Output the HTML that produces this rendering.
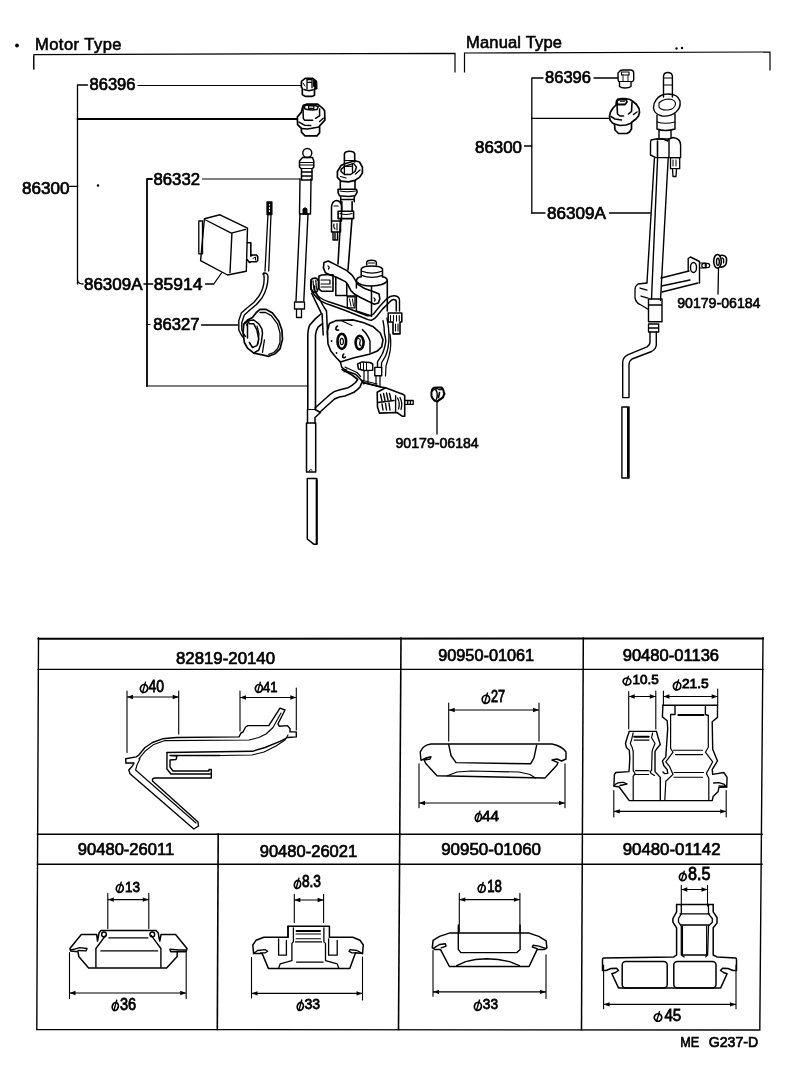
<!DOCTYPE html>
<html><head><meta charset="utf-8"><style>
html,body{margin:0;padding:0;background:#fff;width:800px;height:1086px;overflow:hidden}
svg{display:block;filter:grayscale(1) contrast(3)}
text{font-family:"Liberation Sans",sans-serif;fill:#000}
.t{font-size:16.5px;stroke:#000;stroke-width:0.7px}
.s{font-size:14px;stroke:#000;stroke-width:0.6px}
.d{font-size:12px;stroke:#000;stroke-width:0.8px}
</style></head><body>
<svg width="800" height="1086" viewBox="0 0 800 1086">
<g fill="none" stroke="#000" stroke-width="1.2" stroke-linecap="round" stroke-linejoin="round">
<!-- TEXT -->
</g>
<g id="labels">
<text class="t" style="stroke-width:0.6px" x="35" y="50" textLength="86.5" lengthAdjust="spacing">Motor Type</text>
<text class="t" style="stroke-width:0.6px" x="466" y="48" textLength="96" lengthAdjust="spacing">Manual Type</text>
<text class="t" x="89.5" y="90.3" textLength="46" lengthAdjust="spacingAndGlyphs">86396</text>
<text class="t" x="22" y="193.5" textLength="47.5" lengthAdjust="spacingAndGlyphs">86300</text>
<text class="t" x="153.5" y="185" textLength="46.5" lengthAdjust="spacingAndGlyphs">86332</text>
<text class="t" x="84" y="290" textLength="58.5" lengthAdjust="spacingAndGlyphs">86309A</text>
<text class="t" x="153.8" y="290" textLength="48.6" lengthAdjust="spacingAndGlyphs">85914</text>
<text class="t" x="153.3" y="329.8" textLength="46.2" lengthAdjust="spacingAndGlyphs">86327</text>
<text class="s" x="395.5" y="448.3" textLength="83.2" lengthAdjust="spacingAndGlyphs">90179-06184</text>
<text class="t" x="545" y="83" textLength="46" lengthAdjust="spacingAndGlyphs">86396</text>
<text class="t" x="475" y="152.5" textLength="47" lengthAdjust="spacingAndGlyphs">86300</text>
<text class="t" x="547" y="218.7" textLength="59" lengthAdjust="spacingAndGlyphs">86309A</text>
<text class="s" x="677.2" y="308.2" textLength="83.3" lengthAdjust="spacingAndGlyphs">90179-06184</text>
<text class="t" x="176" y="663.7" textLength="99" lengthAdjust="spacingAndGlyphs">82819-20140</text>
<text class="t" x="438.2" y="661.2" textLength="96" lengthAdjust="spacingAndGlyphs">90950-01061</text>
<text class="t" x="622.7" y="660.7" textLength="96.4" lengthAdjust="spacingAndGlyphs">90480-01136</text>
<text class="t" x="77.8" y="855.3" textLength="96.4" lengthAdjust="spacingAndGlyphs">90480-26011</text>
<text class="t" x="259.7" y="856.5" textLength="97.5" lengthAdjust="spacingAndGlyphs">90480-26021</text>
<text class="t" x="441.2" y="855.3" textLength="99.8" lengthAdjust="spacingAndGlyphs">90950-01060</text>
<text class="t" x="622.7" y="855.3" textLength="97.9" lengthAdjust="spacingAndGlyphs">90480-01142</text>
<text class="t" style="font-size:15px" x="680.2" y="1047" textLength="19" lengthAdjust="spacingAndGlyphs">ME</text><text class="t" style="font-size:15px" x="708.7" y="1047" textLength="49.5" lengthAdjust="spacingAndGlyphs">G237-D</text>
</g>
<g id="table" fill="none" stroke="#000" stroke-linecap="square">
<path d="M38.5 638.8 L763 638.5" stroke-width="2"/>
<path d="M38.5 638 L36.8 1029.5 L759.8 1030 L763 638" stroke-width="1.4"/>
<path d="M38 669.3 L763 669.3" stroke-width="1.3"/>
<path d="M37.5 834.2 L762 834.2" stroke-width="1.6"/>
<path d="M37.5 864.2 L762 864.2" stroke-width="1.4"/>
<path d="M401 638 L398.5 1029.5" stroke-width="1.6"/>
<path d="M583.3 638 L581.5 1029.8" stroke-width="1.5"/>
<path d="M218.2 834 L217.3 1029.5" stroke-width="1.6"/>
</g>

<g id="motor" fill="none" stroke="#000" stroke-width="1.4" stroke-linecap="round" stroke-linejoin="round">
<!-- leaders/brackets left -->
<path d="M77.5 284 V85 H87.5" stroke-width="1.3"/>
<path d="M138 85.5 H301.5" stroke-width="1.1"/>
<path d="M77.5 119 H297" stroke-width="1.8"/>
<path d="M69.5 186.3 H77.5" stroke-width="1.3"/>
<path d="M77.5 280 Q78 284 83 284" stroke-width="1.3"/>
<path d="M147 386 V179 H152" stroke-width="1.8"/><path d="M147 324.5 H150" stroke-width="1.2"/>
<path d="M202.5 179 H300" stroke-width="1.1"/>
<path d="M144 284 H152.7" stroke-width="1.5"/>
<path d="M147 386 H307.5" stroke-width="1.1"/>
<path d="M205.5 284 H213.8 L221.5 273" stroke-width="1.3"/>
<path d="M201.5 325 H237.5" stroke-width="1.3"/>
<path d="M437 402 V434" stroke-width="1.3"/>
<circle cx="98" cy="185.5" r="0.6" fill="#000"/>
<circle cx="17" cy="45.5" r="1.2" fill="#000"/>

<!-- small nut 86396 -->
<path d="M301.4 81.4 L305.1 78.3 H312.7 L316.4 81.4 L316.7 88.6 L314.5 88.9 V95.2 L312 96.4 H305.1 L302.3 94.5 V88.3 L301.4 87.3 Z" stroke-width="1.7"/>
<path d="M307 79.5 H312 V82.3 H307 Z M307 82.3 V88.9 M312 82.6 V87.7" stroke-width="1.3"/>
<path d="M313.5 80 L316 82 V88 L314 87 Z" fill="#000" stroke-width="1"/>
<path d="M303.9 89.5 L308.9 90.8 L313.3 89.8" stroke-width="1.4"/>
<path d="M303 83 L305 86" stroke-width="1"/>
<!-- large nut -->
<path d="M303.3 105.2 L306.4 104.2 H317.7 L322.7 108.3 L324.6 110.8 L324.9 120.2 L319.6 125.9 V132.7 L317 135.9 H305.1 L301.4 132.1 V128.4 L297.6 124.6 L297.3 117.1 L301.4 112.1 L302.3 108.3 Z" stroke-width="1.7"/>
<path d="M304 106 Q310 104 318.3 106.5 L317 109.6 Q311 110.5 305 109 Z" stroke-width="1.5"/>
<path d="M308.6 105.8 H313.9 V108.3 H308.6 Z" stroke-width="1.2"/>
<path d="M303 107 L303.3 118.3 L304.5 120.2 H312.7 M319.6 109 V115.8 L315.5 118.3" stroke-width="1.5"/>
<path d="M298.9 122.1 L304.5 125.2 L310.8 125.5 M319.6 121.5 L323.3 118.3" stroke-width="1.4"/>
<path d="M301.4 128.4 L307.7 129 L318.9 127.1" stroke-width="1.5"/>
<!-- mast 86332 -->
<circle cx="307.3" cy="153" r="4.5"/>
<path d="M302.5 157.5 H312.5 L313.8 161 V167 L312 169 V180 H301.5 V169 L299.5 167 V161 Z" stroke-width="1.5"/><path d="M301.5 172 H312 M302 176 H311.5" stroke-width="1.3"/>
<path d="M300 162.5 H313.5 M300.5 165 H313 M301 168.5 H312.5" stroke-width="1.2"/>
<path d="M300 179 L299.5 214 H310.5 L311 179" />
<path d="M303 214 V209 Q305 206.5 307 209 V214 Z" fill="#000" stroke-width="1"/>
<path d="M300 214 L296 301 M308 214 L303.8 301" />
<path d="M294.5 302 H304.5 V309 H294.5 Z M296.5 309 V317.5 H301.5 V309" stroke-width="1.3"/>

<!-- main antenna top -->
<path d="M344.4 167 V154 Q345 151.3 349.5 151.3 Q354 151.3 354.7 154 V162" stroke-width="1.6"/>
<path d="M345.5 160.5 H353.5 M345.5 166.4 H352" stroke-width="1.2"/>
<path d="M337.4 171.5 L341 165.6 L344.7 163.8 L355 160.8 L359.5 162 L362.4 167.1 V173 L359.5 177.4 L355 180.3 L348.4 181.8 L341 181.1 L337.4 177.4 Z" stroke-width="1.7"/>
<path d="M341 169.3 L344.7 166.4 L353.6 163.4 L356.5 167.1 L355 171.5 L350.6 174.5 H344.7 L341 171.5 Z" stroke-width="1.5"/>
<path d="M344.4 167 V174.5 M352.5 164 V173" stroke-width="1.3"/>
<path d="M340.5 176.5 L346 178 M355.5 174 L360 170" stroke-width="1.2"/>
<path d="M340.3 181.5 V188.6 M355 180.8 V188.6" stroke-width="1.6"/>
<path d="M338.1 189.2 H356.5 L357.2 192.1 L355 195.8 L348.4 196.5 L339.6 195.8 L338.1 192.9 Z" stroke-width="1.6"/>
<path d="M340 191 Q347 192.5 355.5 191" stroke-width="1.2"/>
<path d="M340.7 196.5 V201.7 M354.3 196.5 V201.7 M341 199.5 H353.5" stroke-width="1.5"/>
<path d="M341.8 201.7 V211 M352.1 201.7 V211" stroke-width="1.6"/>
<path d="M338.1 211.3 H353.6 V218.6 H338.1 Z" stroke-width="1.6"/>
<path d="M340 213.5 Q346 215.5 352 213.5" stroke-width="1.1"/>
<path d="M340.6 218.6 L338 264 M352 218.6 L348 270" stroke-width="1.6"/>
<!-- connector left of mast -->
<path d="M331.5 221 V207 Q332 201 336.5 200.5 Q341 201 341.5 206 V221" stroke-width="1.5"/><path d="M334 206 H338" stroke-width="1.2"/><path d="M331.5 221 H340.5 V232 H331.5 Z" stroke-width="1.5"/><path d="M334 224 Q333 227 335 229 M337 223.5 V230" stroke-width="1.1"/><path d="M333 232 V240 H337.5 V232 M335 233 V239" stroke-width="1.4"/>

<!-- bracket strap -->
<path d="M324,262.4 L328.2,261 L336.5,265.1 L346.8,270.6 L352.3,275.4 L355,279.6 L357.8,284.4 L364.6,288.5 L374.3,292 L379.1,294 L379.8,298.8 L378.4,303 L374.3,304.3 L370.2,302.3 L360.5,297.5 L354.3,294 L350.9,290.6 L348.1,285.1 L345.4,281.6 L337.1,277.5 L329.6,274.8 L325.4,272.7 L323.4,267.9 Z" stroke-width="1.6"/>
<path d="M328 266 Q330 267 328.5 269" stroke-width="1.3"/>
<path d="M374 298 Q376 299.5 374.5 301" stroke-width="1.3"/>

<!-- motor cylinder -->
<path d="M366.7 265 V262 Q367.5 260.3 371.5 260.3 Q375.5 260.3 376.3 262 V265" stroke-width="1.5"/>
<path d="M368.5 263 H374.5" stroke-width="1"/>
<path d="M361.2 276.8 V268.8 Q363 266 371.8 266 Q380.7 266 382.5 268.8 V276.8" stroke-width="1.5"/>
<path d="M362 271.3 Q371.8 275 382 271.3 M361.5 275.4 Q371.8 279.5 382.5 275.4" stroke-width="1.2"/>
<path d="M356.4 281 Q357 277 361.2 276.8 M382.5 276.8 Q387.3 277.5 387.3 281 V311" stroke-width="1.6"/>
<path d="M356.4 281 V288 M356.5 281.5 Q360 286 371.5 286 Q384 285.5 387.3 281" stroke-width="1.5"/>
<path d="M371.5 286 V316" stroke-width="1.5"/>
<!-- gear box blocks -->
<path d="M335.8 277.5 V295.5 M346.8 284 V296 H356.4 V303 M335.8 295.5 H346.8" stroke-width="1.5"/>
<path d="M347.3 296.8 H355 V307.8 H347.3 Z" stroke-width="1.3"/>
<path d="M349.5 299 L351 306 M352.5 299 L353.5 306" stroke-width="1"/>
<path d="M356.4 303 V311 L371.5 316" stroke-width="1.4"/>
<!-- left connector -->
<path d="M319 276 Q321 274.8 326 274.8 H333 V291.3 H322 Q318.5 290 318.5 286 Z" stroke-width="1.6"/>
<path d="M321 280 H330 V284 H321 M321 287 H331" stroke-width="1.2"/>
<path d="M311 280 Q312.5 277.8 316.5 278.3 L318.6 281 L318.8 287 L317 291.5 L313.5 292.5 L311 289 Z" stroke-width="1.8"/><path d="M313 281 L314 290 M315.8 280.5 L316.5 289" stroke-width="1.3" stroke-dasharray="1.5 1.2"/>

<!-- cable loop (double tube) -->
<path d="M311 281.6 Q309.5 289 313.8 294 Q317 298.5 320.6 300.9 Q325 303.5 330.3 305 L345.4 310.5 L366 318.8 Q369 320.3 371.5 320.2 Q374.5 319.5 377 316 L382.5 309.1 L389.4 302.3 Q391.5 299.5 393.5 299.5 Q396.3 299.5 396.3 302 V311" stroke-width="1.5"/>
<path d="M314.5 286 Q314 291 317.5 295.5 Q322 300 331 302.5 L346 307.5 L366.5 315.5 Q370 316.5 373.5 314 L379.5 306.5 L386.5 299 Q390.5 295.5 394.5 295.8 Q399.3 296.5 399.5 300 V311" stroke-width="1.4"/>
<!-- right connector -->
<path d="M388.2 313 H401.8 V322 H400 V333.9 H393 V322 H388.2 Z" stroke-width="1.6"/>
<path d="M390.5 315.5 V321 M393.5 315.5 V321 M396.5 315.5 V321 M399.3 315.5 V321 M395.5 324 V331 M398 324 V331" stroke-width="1.1"/>
<!-- wires down right side -->
<path d="M383 320.6 Q384.4 327 384.4 333 Q386 340 385.8 341.3 Q384.5 350 381.7 355 L377.5 361.9 V367.4" stroke-width="1.4"/>
<path d="M387 318 Q389 328 389 336 Q389 348 385.5 356 L381.5 363 V368" stroke-width="1.4"/>
<path d="M390 334 Q392 345 389 356 L386 366 L385.5 376" stroke-width="1.2"/>

<!-- gear housing plate -->
<path d="M329.4 323.4 L336.3 320.6 L352.8 319.9 L363.8 322.7 L373.4 326.8 L380.3 333 L383 339.9 L381.7 346.8 L377.5 350.9 L369.3 354.3 L354.1 357.8 L340.4 361.9 L336.3 357.8 L330.8 350.9 L328 344 L327.3 331.6 Z" stroke-width="1.6"/>
<ellipse cx="341.8" cy="341.3" rx="4.3" ry="7.6" stroke-width="2.6"/>
<ellipse cx="341.8" cy="341.5" rx="1.6" ry="3.2" stroke-width="1.2"/>
<ellipse cx="359.6" cy="342.6" rx="4" ry="6.8" stroke-width="2.6"/>
<path d="M358.5 338.5 Q361 339 360 342 Q359 345 361 346" stroke-width="1.2"/>
<path d="M362.4 329.6 Q367.9 334.4 370 341.3 V352.3" stroke-width="1.4"/>
<path d="M341 320.5 L352 325.5" stroke-width="1.2"/>
<path d="M337.5 326 Q335.5 327 336 329.5 Q337 330.5 338.5 330" stroke-width="1.6"/>
<path d="M343.8 354 Q342 355.5 343 357.5 Q344.5 358 345.5 357" stroke-width="1.6"/>
<circle cx="331.5" cy="341" r="0.9" fill="#000" stroke="none"/>
<circle cx="336.5" cy="353" r="0.9" fill="#000" stroke="none"/>
<!-- lower bracket under plate -->
<path d="M340.4 361.9 L341.8 367.4 L347.3 371.5 L355.5 374.3 L361 379.8 L363.8 383.9" stroke-width="1.5"/>
<path d="M345 367 L357 372.5 L360.5 376.5" stroke-width="1.2"/>
<path d="M344 372 Q345 369 347 369" stroke-width="1.1"/>
<path d="M357.6 364 L362 361.9 L370 362.5 L372.7 364 V370.2 L364 370.5 L358.5 369 Z" stroke-width="1.5"/>
<path d="M360.5 363.5 V369 M363.5 363 V369.5 M366.5 363 V370" stroke-width="1"/>
<path d="M374.8 367.4 H381.7 V375.7 H374.8 Z" stroke-width="1.4"/>
<path d="M364 370.5 V381 M368 370.5 V383 M376 375.7 V385 M380 375.7 V386" stroke-width="1.2"/>

<!-- drain tube from motor (left J) -->
<path d="M311.6 293.2 L321 312.6 L322.1 314 L323.2 335 M315.5 291.6 L323.2 305.9 L326.5 311 L327.6 335" stroke-width="1.5"/>
<path d="M321.5 313.5 L315.5 318.6 L310 324.7 Q307.8 329 307.8 336 V409.5" stroke-width="1.6"/>
<path d="M322.5 323.6 L318.2 327 Q316 330 315.5 335 V409.5" stroke-width="1.6"/>
<!-- junction -->
<path d="M307.5 409.5 V423 M315 409.5 L320.5 412.5 L315 417.5 V423" stroke-width="1.5"/>
<path d="M308 409.5 H315" stroke-width="1.2"/>
<!-- lower tube -->
<path d="M306.5 423 H315.7 M306.5 423 V472 M315.7 423 V472 M306.5 472 H315.7" stroke-width="1.5"/>
<path d="M307.3 478.4 H316.7 M307.3 478.4 V539 L314 544.3 H316.7 V478.4" stroke-width="1.5"/>
<path d="M316.7 480 V544" stroke-width="2"/>
<path d="M309 471 Q310 468.5 312 470" stroke-width="1"/>
<!-- diagonal hose -->
<path d="M315 408 L330 394.5 Q334 391 339 390 L348 387.7 Q352 386 355.5 382.5 L357.7 379.5 L352 375 L342 369.5" stroke-width="1.6"/>
<path d="M319.5 412.5 L334.5 399 Q339 396.5 345 396 L354 392.2 Q357.5 390 360 387 L361.5 383.2 L363 381" stroke-width="1.6"/>
<path d="M363 382.5 L381 387" stroke-width="1.4"/>
<path d="M361 380 L377 384" stroke-width="1.2"/>
<!-- right connector box -->
<path d="M377.2 392.2 L385.5 387.7 L403.4 394.5 L404.7 395.6 V416.3 L402.5 416.3 L396.9 412.5 L379.4 413.1 L377.5 406.9 Z" stroke-width="1.6"/>
<path d="M378 402.5 L394 400.5 M395.6 395.6 V411.5" stroke-width="1.4"/>
<path d="M380.5 394.5 L382 401 M383.5 393.5 L385 400.5 M386.5 393 L388 400 M389.5 393.5 L391 400 M382 404 L383 410 M385.5 403.5 L386.5 410 M389 403 L390 410" stroke-width="1.4"/>
<path d="M397.5 398 Q400.5 403 398.5 409 M400 397.5 Q403 403 401 409.5" stroke-width="1.3"/>
<path d="M405 400.5 H413.2 V404.4 H405 M407.7 400.5 V404.4 M410.4 400.5 V404.4" stroke-width="1.3"/>
<path d="M363 382.5 L381 387 L385.5 387.7" stroke-width="1.4"/>

<!-- nut 90179 left -->
<path d="M432.3 389.5 Q433 387.5 436 387.5 L436.8 388.5 L437.6 387.5 H441.5 L442.8 389 Q443.8 390.5 443.8 392.5 L444.5 393.8 L443.8 395 Q443.5 397.5 441.5 398.5 L439 400 L437.5 401.5 L434.8 400.8 Q432.3 399 431.5 396 Q431 392 432.3 389.5 Z" stroke-width="2.1"/>
<path d="M432.8 390.5 Q434.5 388.5 436 390 Q437.5 392 437.2 396 Q437 399.5 435.5 400.5" stroke-width="1.5"/>
<path d="M438.5 389.5 H441.5 M439.5 392.5 L438.5 397.5" stroke-width="1.6"/>
<!-- relay 85914 -->
<path d="M204.4 218.8 L220 214.8 L247.5 228.1 L246.3 271.3 L227.5 275 L200.6 260.6 Z"/>
<path d="M205.6 220 L231.3 233.1 L245.6 229.4 M231.9 233.8 L230 272.5"/>
<path d="M198.8 221 H202.5 V253.8 H198.8 Z" stroke-width="1.3"/>
<path d="M247.2 242.7 H250.8 V256 M250.8 256 L252.5 255 H256.5 L257.7 256.5 V260.5 L256.5 261.8 H251 L249.5 262.4 L247 259.5" stroke-width="1.6"/><path d="M253 258.5 L255.5 257 V260" stroke-width="1"/>
<!-- rod -->
<path d="M267 202 H271.9 V214.5 H267 Z" fill="#000" stroke-width="1.3"/><path d="M269.4 204 V205.2 M269.4 207.2 V208.4 M269.4 210.4 V211.6" stroke="#fff" stroke-width="1"/>
<path d="M268 213.8 L265 271 M271 213.8 L268.7 271" stroke-width="1.3"/>
<!-- cable 86327 -->
<path d="M264 275 Q262 274 264 273 Q268 273 268 277 Q268 288 262 298 L256.5 304.5 L250.5 309.5 L244.3 315.1 L241.8 322.6 V330 L244.3 335 L245.5 336.5" stroke-width="1.4"/>
<path d="M264 276 Q265 287 259 296 L253.8 302.5 L247.5 307.5 L241.3 313.1 L238.8 320.6 V330 L241.3 335 L243.8 338.1" stroke-width="1.4"/>
<!-- grommet -->
<path d="M260 309.4 L266.3 309.4 L272.5 313.1 L278.8 321.3 L281.9 330 L282.5 339.4 L280 348.8 L275 353.8 L268.8 356.3 L260 354.4 L253.8 353.1 L247.5 348.1 L244.4 342.5 L243.1 333.1 L243.8 323.8 L247.5 320 L252.5 317.5 L256.3 312.5 Z" stroke-width="1.7"/>
<path d="M260 312.5 L265.6 312.5 L271.3 315.6 L277.5 323.8 L280 333.1 V342.5 L277.5 348.8 L273.8 352.5 L268.8 354.4" stroke-width="1.3"/>
<path d="M244.4 323.8 L248.8 320.6 L253.8 320 L258.8 323.8 L261.9 328.8 L262.5 333.1 L261.3 342.5 L258.8 350 L253.8 353.1" stroke-width="1.5"/>
<path d="M249.4 323.8 L253.8 323.8 L256.9 330 L258.8 339.4 L256.9 345.6 L252.5 347.5 L249.4 342.5" stroke-width="1.5"/>
<path d="M247.5 323.8 V338 M246.5 325 L249 322" stroke-width="1.5"/>
<path d="M264.4 340 L262.5 352.5" stroke-width="1.3"/>
<path d="M257 326 L259 334 L258 344" stroke-width="1.2"/>
</g>


<g id="manual" fill="none" stroke="#000" stroke-width="1.4" stroke-linecap="round" stroke-linejoin="round">
<!-- manual leaders -->
<path d="M531.8 213 V78 H543" stroke-width="1.3"/>
<path d="M594 78 H618" stroke-width="1.3"/>
<path d="M531.8 118.3 H609.4" stroke-width="1.3"/>
<path d="M524.5 146 H531.8" stroke-width="1.3"/>
<path d="M531.8 213 H545 M609.5 213 H650.3" stroke-width="1.3"/>
<path d="M718.5 268.5 L718 294" stroke-width="1.3"/>
<!-- small nut -->
<path d="M619 72 Q620 70 623 70 H630.5 Q633.7 70 633.7 73 V80 Q633 82 631 82 V86.5 Q629 88 625 88 Q621 88 619.5 86.5 V82 Q618 81.5 618 79 V73 Z"/>
<path d="M621.5 72 H629 V75 H621.5 Z M619 81.5 H632" stroke-width="1.1"/>
<path d="M623 75 V81 M628 75 V81" stroke-width="0.9"/>
<!-- large nut -->
<path d="M618 99 L622 98.5 H625 L630 99.5 L633 101.5 L636.5 104.5 L639 108.5 L639.5 112.5 L638.5 116 L636 119 L632 122 L631.5 123 V129 L629.5 132 L627 133.5 H618.5 L615 130 L614.5 124 L612.5 123 L610 120 L609.5 116 L610.5 112 L613 108 L616 105 L616.5 101 Z" stroke-width="1.7"/>
<path d="M617 100.5 Q620 99 626 99.5 L627 102 L625 104.5 H617.5 Z" stroke-width="1.8"/><path d="M620.5 101.2 H624.5" stroke-width="1.2"/>
<path d="M617 105 L617.5 114 L620 116 H623.5 M632 102.5 L631.5 111.5 L628.5 114" stroke-width="1.6"/>
<path d="M611 116.5 L615 119 L621.5 120 M633.5 114.5 L637 112" stroke-width="1.5"/>
<path d="M614.5 124 L620 125.5 L626 125 L631.5 123" stroke-width="1.5"/>
<!-- mast top -->
<path d="M663.5 97 V76 Q664 72.5 667.8 72.5 Q671.8 72.5 672.4 76 V97"/>
<path d="M664 78 H672 M664 85 H672" stroke-width="1.1"/>
<path d="M656 100 Q660 94 668 94 Q678 94 680 101 Q681 108 676 112 Q670 117 662 116 Q654 114 653.5 108 Q653.5 103 656 100 Z"/>
<path d="M659 103 Q663 99 669 99 Q675.5 99.5 675.5 104 Q675 109 668 110 Q661 110.5 659 107 Z" stroke-width="1.1"/>
<path d="M657 115 V129 Q665 132 675 129 V114"/>
<path d="M657 122 Q665 124.5 675 122" stroke-width="1.1"/>
<path d="M659 130 V137.5 M671 130 V137.5"/>
<!-- connector housing -->
<path d="M656 139 L651 140 Q650.5 141 650.5 145 V155 L655.8 157.6 H669 V139 Z" />
<path d="M669 139 L673 137.5 Q680.6 138.5 680.6 145 V157.6 H669" />
<path d="M657 139 Q662 138 668 141 M657.5 141 V157" stroke-width="1.6"/>
<path d="M670.5 157.6 H679.7 V168.7 H670.5 Z M672.5 168.7 L673 176.5 H676 L676.5 168.7" stroke-width="1.3"/>
<path d="M673 160 V166 M676 160 V166" stroke-width="1"/>
<!-- tube lines -->
<path d="M654.4 158 L647 282.5 M657.6 158 L651.5 299 M668.2 158 L660.5 300.5"/>
<!-- bracket -->
<path d="M661 278 L689 271 M661.5 286 L690 280 M662 292 L698 283"/>
<path d="M688.2 271 V258.5 L690.5 257 L699.5 261.5 V283"/>
<ellipse cx="693.5" cy="267.5" rx="3" ry="5"/>
<path d="M699.5 263 H706 M699.5 268 H706" stroke-width="1.2"/>
<circle cx="704" cy="265.5" r="2.2" stroke-width="1.2"/>
<circle cx="707.5" cy="265.5" r="2.2" stroke-width="1.2"/>
<!-- nut right -->
<ellipse cx="717.5" cy="261.3" rx="3.8" ry="6.8" stroke-width="1.6"/>
<ellipse cx="717.9" cy="261.8" rx="1.4" ry="3.6" stroke-width="1.4"/>
<path d="M720.5 255.5 Q724.5 254.5 726.2 257.5 Q727.2 261.5 725.5 265 Q723.5 267.5 720.5 267" stroke-width="1.6"/>
<path d="M722.5 258 Q724.5 259.5 723.5 263" stroke-width="1.2"/>
<!-- clip -->
<path d="M647 283 L638 284 Q635 286 635 290 V298 Q636 303 641 305 L648.5 309.5 M640 288 L647 290 M641 296 L648 298" stroke-width="1.3"/>
<!-- base fitting -->
<path d="M648.5 299 H662 V321.7 H648.5 Z M648.5 305 H662" />
<path d="M648.5 324 H658.7 V332 H648.5 Z M648.5 328 H658.7" stroke-width="1.3"/>
<!-- bent tube -->
<path d="M656.3 332 V345 Q656 349 651.6 351.5 L632 359 Q629 361 629 365 V397.6 H622.7 V362 Q623 357 628.2 354.6 L647 346.8 Q650 345 650 342 V332"/>
<path d="M621.9 407 H629 V478 H621.9 Z"/>
<path d="M628 408 V477" stroke-width="2"/>
</g>

<g id="cells" fill="none" stroke="#000" stroke-width="1.4" stroke-linecap="round" stroke-linejoin="round">
<!-- dims cell 1 -->
<g stroke-width="1.1">
<path d="M127 691 V752.5 M178.7 691 V734 M127 697 H178.7"/>
<path d="M240 691 V731 M296.3 688 V730 M240 697.5 H296.3"/>
<path d="M448.7 703 V741 M539 703 V741 M448.7 710 H539"/>
<path d="M419 763.8 V807.8 M565 763.8 V807.8 M419 803 H565"/>
<path d="M628.7 691.6 V728.8 M655.8 691 V729 M628.7 696.5 H655.8"/>
<path d="M663.4 691 V705.4 M717.7 689 V705 M663.4 696.5 H717.7"/>
<path d="M613.8 790.5 V817 M726.2 790.5 V817 M613.8 811.4 H726.2"/>
<path d="M107.8 893.4 V928.5 M148.8 893.4 V928.5 M107.8 899.6 H148.8"/>
<path d="M69.5 952.5 V998.5 M186.2 952.5 V998.5 M69.5 993 H186.2"/>
<path d="M294.3 894.3 V922.4 M323.6 894.3 V922.4 M294.3 900 H323.6"/>
<path d="M251.5 957.3 V998 M362.5 957 V1000 M251.5 993.4 H362.5"/>
<path d="M459.3 893.4 V931.7 M519.9 893.4 V931.7 M459.3 899.6 H519.9"/>
<path d="M433 950.3 V996.3 M546 954.7 V998.5 M433 991.9 H546"/>
<path d="M681.3 885.2 V906 M707.5 885.2 V906 M681.3 889.5 H707.5"/>
<path d="M603.6 965 V1008.8 M736 965 V1008.8 M603.6 1004.4 H736"/>
</g>
<!-- arrowheads -->
<g fill="#000" stroke="none">
<path d="M127 697 l6 -2.2 v4.4 z M178.7 697 l-6 -2.2 v4.4 z"/>
<path d="M240 697.5 l6 -2.2 v4.4 z M296.3 697.5 l-6 -2.2 v4.4 z"/>
<path d="M448.7 710 l6 -2.2 v4.4 z M539 710 l-6 -2.2 v4.4 z"/>
<path d="M419 803 l6 -2.2 v4.4 z M565 803 l-6 -2.2 v4.4 z"/>
<path d="M628.7 696.5 l6 -2.2 v4.4 z M655.8 696.5 l-6 -2.2 v4.4 z"/>
<path d="M663.4 696.5 l6 -2.2 v4.4 z M717.7 696.5 l-6 -2.2 v4.4 z"/>
<path d="M613.8 811.4 l6 -2.2 v4.4 z M726.2 811.4 l-6 -2.2 v4.4 z"/>
<path d="M107.8 899.6 l6 -2.2 v4.4 z M148.8 899.6 l-6 -2.2 v4.4 z"/>
<path d="M69.5 993 l6 -2.2 v4.4 z M186.2 993 l-6 -2.2 v4.4 z"/>
<path d="M294.3 900 l6 -2.2 v4.4 z M323.6 900 l-6 -2.2 v4.4 z"/>
<path d="M251.5 993.4 l6 -2.2 v4.4 z M362.5 993.4 l-6 -2.2 v4.4 z"/>
<path d="M459.3 899.6 l6 -2.2 v4.4 z M519.9 899.6 l-6 -2.2 v4.4 z"/>
<path d="M433 991.9 l6 -2.2 v4.4 z M546 991.9 l-6 -2.2 v4.4 z"/>
<path d="M681.3 889.5 l6 -2.2 v4.4 z M707.5 889.5 l-6 -2.2 v4.4 z"/>
<path d="M603.6 1004.4 l6 -2.2 v4.4 z M736 1004.4 l-6 -2.2 v4.4 z"/>
</g>

<!-- cell 1 seal 82819-20140 -->
<path d="M126 763 L125.6 758.8 L136.3 756.9 L138.8 755 L145 747.5 L152.5 742.5 L162.5 738.8 L176.3 737.5 L239 736.9 L241 733 L243 732 L245.6 727 L248 725.6 L268.8 725.6 L280 708.1 L285 710 L278 723.8 L279.4 726.3 L287.5 725.6 L290 728.8 L290 731.9 L296.3 731.9 L296.3 736.9 L287.5 737.5 L280 741.3 L265 747.5 L252.5 751.3 L167 752.5"/>
<path d="M138.8 758.8 L145 751.3 L153.8 744.4 L165 740.6 L249 740 L258.8 737.5 L266 734 L273 727.5 L281 713" stroke-width="1.1"/>
<path d="M167 752.5 L166.9 769 L171 774 L211.3 774 L211.3 769.5 L209 769.5 L209 771 L173 771 L170 767 L170 760 L176 759.5 L177 756 L170 755.5 L220 755.5"/>
<path d="M220 755.5 L252 755 L264 752 L276 746 L285 740 L288 735" stroke-width="1.1"/>
<path d="M211.3 774 V778 L155 778 Q151.9 778 152.5 781 L198 822 L198.5 826 L193.8 829 L130 773.8 L128.8 770 L132 766.5 L134 763 H126"/>
<path d="M135.6 770 L137 765 L140 758.8 M135.6 770 L196 823" stroke-width="1.1"/>

<!-- cell 2 grommet 90950-01061 -->
<path d="M420.2 752 Q423 745 431 744 H552 Q562 746 566 752 V759 L561.5 761 L557 759 L552 760 L558 762.6 L557 765 L545 778 L437 775.7 L426 763.8 L424 760 L430 759 L431 756.6 L426 758 L421 760.3 Z"/>
<path d="M448.7 744.5 L451 755.5 L456 762.6 L530.6 763.8 L534 757.9 L536.6 745.5"/>
<path d="M447.5 775.7 L457 772 L471 771 L519 772 L530 774.5 L535.4 778" stroke-width="1.2"/>

<!-- cell 3 90480-01136 -->
<g stroke-width="1.4">
<path d="M629.3 731.4 H656.4"/>
<path d="M629.3 731.4 L627.4 736.8 L625.5 743.5 L626.4 747.4 L629.3 750.3 L629.8 758 L629.3 767.7 L628.9 771.6 L615.8 772.5 L614.4 774.5 L613.9 786"/>
<path d="M633.2 732.9 L631.8 738.7 L630.3 743.5 L632.2 747.4 L633.2 751.3 V770.6 L635.1 773.5 L633.2 776.4 V800.6" stroke-width="1.2"/>
<path d="M656.4 731.4 L657.9 736.8 L660.3 744.5 L656.4 749.3 L655 751.3 V771.6 L660.3 777.4 V800.6"/>
<path d="M652.6 732.9 L651.6 737.7 L655 743.5 L653 748.4 L652.1 751.3 L651.6 770.6 L650.1 771.6 L651.1 773.5 L654.5 775.4" stroke-width="1.2"/>
<path d="M634.2 736.8 H648.7" stroke-width="2"/>
<path d="M634.2 740.1 H649 M635.5 770.6 H648.7 M634.2 774.5 H648.7" stroke-width="1.1"/>
<path d="M662.9 705.3 H717.5 M675 705.3 V714.5 H670.6 M705.4 705.3 V714.5 L708.3 715.5"/>
<path d="M662.9 705.3 L662.4 716.9 L667.2 720.8 L667.7 729 L666.3 749.3 L665.8 757 L662.4 760.9 L663.9 765.7 L667.2 769.6 L667.7 773.4 L664.5 773.6 L663 772"/>
<path d="M670.6 714.5 V748.3 L673 752.2 L665.8 761.8 L669.7 766.7 L673 774.4 L665.8 781.2 L664.8 800.5" stroke-width="1.2"/>
<path d="M717.5 705.3 V717.4 L712.2 721.7 L712.7 749.3 L717.5 760.9 L712.2 769.6 L712.7 774.4 L723.8 772.5 L727.1 777.3 L726.7 787"/>
<path d="M708.3 715.5 V747.3 L705.4 752.2 L712.7 761.8 L706.4 773.4 L708.8 778.3 V800.5" stroke-width="1.2"/>
<path d="M678.4 715 H703.5" stroke-width="2"/>
<path d="M673.5 750.2 H702.5 M675.5 754.6 H702.5 M674 772.5 H703.5 M674 777.3 H702.5" stroke-width="1.1"/>
<path d="M613.9 786 L619.2 787 L629.3 800.6 H712.2 L713.1 796.6 L718 791.8 L719 787.4 L726.7 787"/>
<path d="M615 784.5 Q618 782 624 782.5 L627 784 L620 785.5 M713.6 783 L718.9 782.6 L723.8 784 L726 786.5 L719 786" stroke-width="1.3"/>
</g>
<!-- cell 4 90480-26011 -->
<path d="M100.8 930.6 H156 L158.3 933 L159 937.9 L159.8 941.1 L161 934.6 H175.6 L187 948.5 L186.1 951.7 L177.2 951.7 L177.2 956.6 L166.6 967.9 H88.6 L78.8 956.6 L78 951.7 L70.7 950.9 L69.9 948.5 L81.3 934.6 H96.7 L97.5 941.1 L98.3 937 L99 933 Z" stroke-width="1.5"/>
<path d="M95.9 967.2 V948.5 L105.7 935.4 M160.9 967.2 V948.5 L151.2 935.4" stroke-width="1.4"/>
<path d="M108.9 937.9 H147.9 M100.8 950.9 H157.7" stroke-width="1.2"/>
<circle cx="104" cy="934.4" r="2.4" stroke-width="1.4"/>
<circle cx="152.3" cy="934.4" r="2.4" stroke-width="1.4"/>
<path d="M71 950 L73.9 949.3 L79.6 947.6 L87 948.5 L86.1 950.9 L78 950.5 M186 950 L178.8 950 L169.9 949.3 L170.7 951.7 L177.2 951.7" stroke-width="1.4"/>
<!-- cell 5 90480-26021 -->
<path d="M288 926.3 H329.4 V937.2 H352.8 L360 940.3 L363.3 945 L362.5 953.6 L355.5 952.8 L349.8 968.4 H268.4 L262.2 953.6 L253.6 953.6 L252.8 945 L256 940.3 L263.8 937.2 H288 Z" stroke-width="1.5"/>
<path d="M288 926.3 V937.2" stroke-width="1.5"/>
<path d="M278.6 938.8 V955.2 H286.4 V940.3 M328.6 938.8 V955.2 H337.2 V940.3" stroke-width="1.3"/>
<path d="M293.4 927.8 V941.9 L291.9 943.4 V960.6 L280.2 963.8 L278.6 968.4 M323.9 927.8 V941.9 L325.5 943.4 V960.6 L337.2 963.8 L338.8 968.4" stroke-width="1.3"/>
<path d="M296.6 962.2 H323.1" stroke-width="1.2"/>
<path d="M296.5 931 H320" stroke-width="1.8"/>
<path d="M296 934 H320.5 M296 938.8 H320.5 M295.5 941.9 H321.5" stroke-width="1.1"/>
<path d="M253.6 953.6 L257.5 950.5 L265.3 949.7 L267.7 951.3 L265.3 952.8 L260.6 952.8 M362.5 953.6 L357 950.5 L350 949.7 L349 951.3 L352 952.8 L355.5 952.8" stroke-width="1.3"/>
<!-- cell 6 90950-01060 -->
<path d="M449.4 933.1 H529.1 L538.8 936.4 L546.1 940.9 L546.9 947.8 L544.5 949.4 L537.2 949.4 L529.1 966.5 H449.4 L440.4 949.4 L434.8 949.4 L432.3 947.8 L433.1 940.4 L439.6 936.4 Z" stroke-width="1.5"/>
<path d="M434 947.8 L439.6 944.5 L445.3 943.7 L446.1 946.1 L441.3 947.8 M546.2 948.6 L538.8 946.1 L533.1 945.3 L532.3 947 L537.2 948.6" stroke-width="1.4"/>
<path d="M458.3 925 V949.4 L460.8 952.6 H516.9 L520.1 949.4 V925" stroke-width="1.4"/>
<path d="M456.7 965.7 L465.7 961.6 L475.4 959.5 L486.8 958.8 L498.2 959.5 L509.6 961.6 L519.3 965.7" stroke-width="1.4"/>
</g>

<g id="phis">
<ellipse cx="144.0" cy="688.5" rx="3.6" ry="4.0" transform="rotate(15 144.0 688.5)" fill="none" stroke="#000" stroke-width="1.7"/>
<path d="M145.6 681.6 L142.4 693.4" stroke="#000" stroke-width="1.4" fill="none"/>
<text class="d" x="148.5" y="692" style="font-size:15.9px" textLength="15.5" lengthAdjust="spacingAndGlyphs">40</text>
<ellipse cx="258.9" cy="688.4" rx="3.5" ry="3.9" transform="rotate(15 258.9 688.4)" fill="none" stroke="#000" stroke-width="1.7"/>
<path d="M260.5 681.6 L257.3 693.1" stroke="#000" stroke-width="1.4" fill="none"/>
<text class="d" x="263" y="691.6" style="font-size:15.2px" textLength="14.5" lengthAdjust="spacingAndGlyphs">41</text>
<ellipse cx="485.9" cy="699.3" rx="3.7" ry="4.0" transform="rotate(15 485.9 699.3)" fill="none" stroke="#000" stroke-width="1.7"/>
<path d="M487.6 692.5 L484.3 704.1" stroke="#000" stroke-width="1.4" fill="none"/>
<text class="d" x="490.9" y="701.9" style="font-size:15.7px" textLength="14.1" lengthAdjust="spacingAndGlyphs">27</text>
<ellipse cx="478.4" cy="817.4" rx="3.0" ry="4.0" transform="rotate(15 478.4 817.4)" fill="none" stroke="#000" stroke-width="1.7"/>
<path d="M480.1 810.6 L476.8 822.2" stroke="#000" stroke-width="1.4" fill="none"/>
<text class="d" x="481.9" y="820.6" style="font-size:15.2px" textLength="17.1" lengthAdjust="spacingAndGlyphs">44</text>
<ellipse cx="627.0" cy="681.5" rx="3.9" ry="3.4" transform="rotate(15 627.0 681.5)" fill="none" stroke="#000" stroke-width="1.7"/>
<path d="M628.6 675.6 L625.4 685.6" stroke="#000" stroke-width="1.4" fill="none"/>
<text class="d" x="632.5" y="683.5" style="font-size:13.1px" textLength="26.2" lengthAdjust="spacingAndGlyphs">10.5</text>
<ellipse cx="677.1" cy="686.0" rx="3.7" ry="3.9" transform="rotate(15 677.1 686.0)" fill="none" stroke="#000" stroke-width="1.7"/>
<path d="M678.7 679.4 L675.5 690.6" stroke="#000" stroke-width="1.4" fill="none"/>
<text class="d" x="681.9" y="688.1" style="font-size:13.5px" textLength="26.9" lengthAdjust="spacingAndGlyphs">21.5</text>
<ellipse cx="119.8" cy="888.4" rx="3.5" ry="3.9" transform="rotate(15 119.8 888.4)" fill="none" stroke="#000" stroke-width="1.7"/>
<path d="M121.4 881.6 L118.2 893.1" stroke="#000" stroke-width="1.4" fill="none"/>
<text class="d" x="125" y="891.6" style="font-size:15.2px" textLength="15.0" lengthAdjust="spacingAndGlyphs">13</text>
<ellipse cx="115.3" cy="1006.5" rx="3.0" ry="4.0" transform="rotate(15 115.3 1006.5)" fill="none" stroke="#000" stroke-width="1.7"/>
<path d="M116.9 999.6 L113.7 1011.3" stroke="#000" stroke-width="1.4" fill="none"/>
<text class="d" x="120" y="1010" style="font-size:15.9px" textLength="16.2" lengthAdjust="spacingAndGlyphs">36</text>
<ellipse cx="297.5" cy="884.4" rx="3.1" ry="4.0" transform="rotate(15 297.5 884.4)" fill="none" stroke="#000" stroke-width="1.7"/>
<path d="M299.1 877.6 L295.9 889.2" stroke="#000" stroke-width="1.4" fill="none"/>
<text class="d" x="301.9" y="887" style="font-size:15.9px" textLength="19.1" lengthAdjust="spacingAndGlyphs">8.3</text>
<ellipse cx="300.3" cy="1006.4" rx="3.0" ry="4.0" transform="rotate(15 300.3 1006.4)" fill="none" stroke="#000" stroke-width="1.7"/>
<path d="M301.9 999.5 L298.7 1011.1" stroke="#000" stroke-width="1.4" fill="none"/>
<text class="d" x="304.4" y="1008.6" style="font-size:14.8px" textLength="15.6" lengthAdjust="spacingAndGlyphs">33</text>
<ellipse cx="481.7" cy="888.5" rx="3.5" ry="3.9" transform="rotate(15 481.7 888.5)" fill="none" stroke="#000" stroke-width="1.7"/>
<path d="M483.3 881.9 L480.1 893.1" stroke="#000" stroke-width="1.4" fill="none"/>
<text class="d" x="487.2" y="891.9" style="font-size:15.7px" textLength="14.7" lengthAdjust="spacingAndGlyphs">18</text>
<ellipse cx="477.9" cy="1006.4" rx="3.5" ry="4.0" transform="rotate(15 477.9 1006.4)" fill="none" stroke="#000" stroke-width="1.7"/>
<path d="M479.6 999.5 L476.3 1011.1" stroke="#000" stroke-width="1.4" fill="none"/>
<text class="d" x="482.8" y="1008.6" style="font-size:15.2px" textLength="15.2" lengthAdjust="spacingAndGlyphs">33</text>
<ellipse cx="682.8" cy="876.9" rx="3.4" ry="3.7" transform="rotate(15 682.8 876.9)" fill="none" stroke="#000" stroke-width="1.7"/>
<path d="M684.4 870.6 L681.2 881.3" stroke="#000" stroke-width="1.4" fill="none"/>
<text class="d" x="688.1" y="880" style="font-size:18.2px" textLength="22.5" lengthAdjust="spacingAndGlyphs">8.5</text>
<ellipse cx="658.0" cy="1017.5" rx="3.7" ry="3.7" transform="rotate(15 658.0 1017.5)" fill="none" stroke="#000" stroke-width="1.7"/>
<path d="M659.6 1011.1 L656.4 1021.9" stroke="#000" stroke-width="1.4" fill="none"/>
<text class="d" x="664.4" y="1020.6" style="font-size:17.1px" textLength="16.9" lengthAdjust="spacingAndGlyphs">45</text>
</g>
<g fill="none" stroke="#000" stroke-width="1.4" stroke-linecap="round" stroke-linejoin="round">
<!-- cell 7 90480-01142 -->
<path d="M676.6 904.4 H713.2" stroke-width="1.5"/>
<path d="M676.6 904.4 V911.9 L672.9 918.5 V922.2 L676.6 927.8 V955 L673.8 956.9 L603.4 957.9 Q602.5 958 602.5 960 V970.5 L606 970.5 L611 968.5 L616.5 968.2 L618.5 970.5 L615.5 972.5 L611.9 973.8 L618.5 987.9 H720.7 L727.1 973.8 L723.5 972.5 L720.5 970.5 L722.5 968.2 L728 968.5 L733 970.5 L736.5 970.5 V960 Q736.5 958 735.7 957.9 L717 956.9 L713.2 955 V927.8 L717 923.1 V917.5 L713.2 911.9 V904.4" stroke-width="1.5"/>
<path d="M681.3 904.4 V913.8 L678.5 918.5 V922.2 L681.3 926 V955 L684.1 956.9 M708.5 904.4 V913.8 L712.3 918.5 V922.2 L708.5 926 L707.6 955 L705.7 956.9" stroke-width="1.3"/>
<path d="M680 913.8 H709.5 M681.5 925 H708.5 M683.5 955 H706.5" stroke-width="1.3"/>
<path d="M682.5 926 V955 M706.6 926 V955" stroke-width="1.1"/>
<rect x="622.2" y="961.6" width="45" height="26.3" rx="3.5" stroke-width="1.5"/>
<rect x="673.8" y="961.6" width="42.2" height="26.3" rx="3.5" stroke-width="1.5"/>
</g>

<!-- brackets -->
<g fill="none" stroke="#000" stroke-width="1.2">
<path d="M33.9 69.7 V54.6 L455 53.4 V72.5"/><path d="M33.5 56 V69" stroke-width="0.8"/>
<path d="M464.5 72.5 V53 L770 52 V70.6"/><circle cx="676.5" cy="48.5" r="0.6" fill="#000"/><circle cx="682" cy="48" r="0.6" fill="#000"/>
</g>
</svg>
</body></html>
